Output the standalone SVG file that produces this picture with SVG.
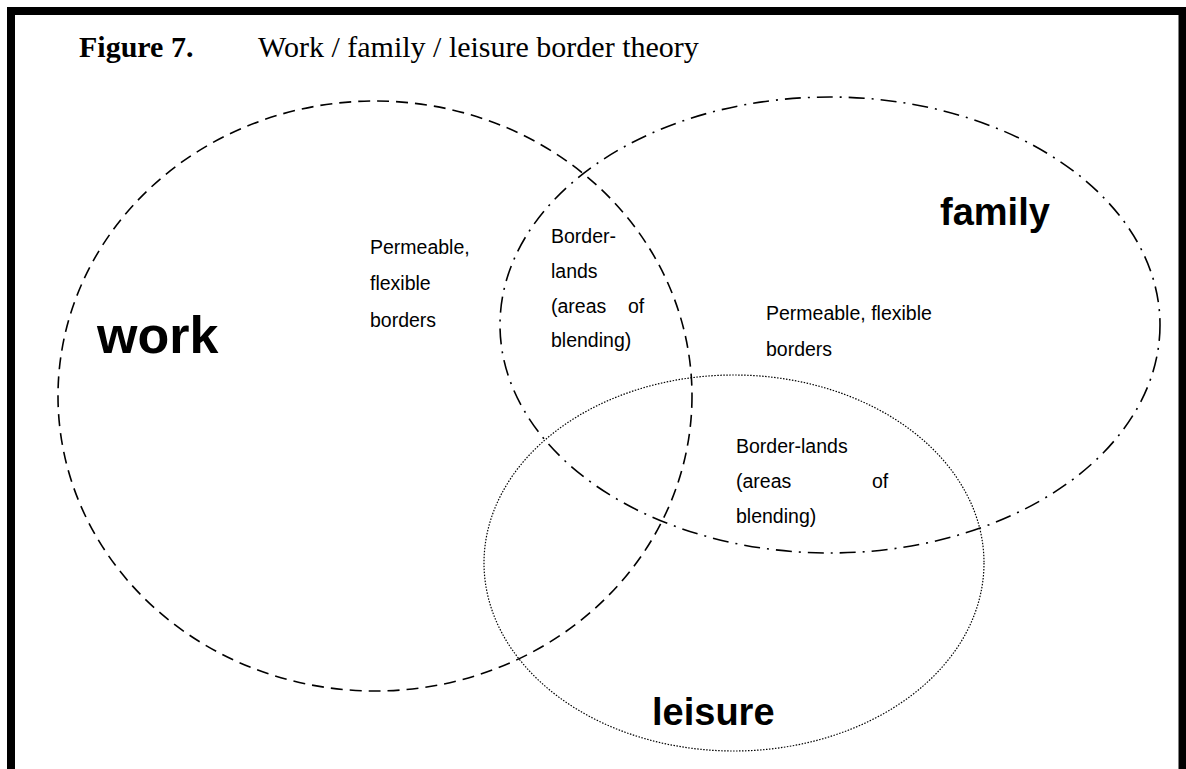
<svg xmlns="http://www.w3.org/2000/svg" width="1186" height="769" viewBox="0 0 1186 769">
<style>
.frame{fill:none;stroke:#000;stroke-width:8}
.ell{fill:none;stroke:#000}
.work{stroke-width:1.6;stroke-dasharray:12 7}
.family{stroke-width:1.6;stroke-dasharray:16 7 2 7}
.leisure{stroke-width:1.2;stroke-dasharray:1.5 1.5}
.title{font-family:"Liberation Serif",serif;font-size:30px;fill:#000}
.big{font-family:"Liberation Sans",Arial,sans-serif;font-weight:bold;fill:#000}
.small{font-family:"Liberation Sans",Arial,sans-serif;font-size:19.5px;fill:#000}
</style>
<rect class="frame" x="11" y="11" width="1171.5" height="800"/>
<text class="title" x="79" y="57"><tspan font-weight="bold">Figure 7.</tspan><tspan x="258">Work / family / leisure border theory</tspan></text>
<g id="connectors"></g>
<g id="work">
<ellipse class="ell work" cx="375" cy="396" rx="317" ry="295"/>
<text class="big" x="97" y="353" font-size="52">work</text>
</g>
<g id="family">
<ellipse class="ell family" cx="830" cy="325" rx="330" ry="228"/>
<text class="big" x="940" y="225" font-size="38">family</text>
</g>
<g id="leisure">
<ellipse class="ell leisure" cx="734" cy="563" rx="250" ry="188"/>
<text class="big" x="652" y="725" font-size="38">leisure</text>
</g>
<g id="work-family-border">
<text class="small" x="370" y="254">Permeable,</text>
<text class="small" x="370" y="290">flexible</text>
<text class="small" x="370" y="327">borders</text>
</g>
<g id="borderlands-1">
<text class="small" x="551" y="243">Border-</text>
<text class="small" x="551" y="278">lands</text>
<text class="small" x="551" y="313">(areas</text>
<text class="small" x="628" y="313">of</text>
<text class="small" x="551" y="347">blending)</text>
</g>
<g id="family-leisure-border">
<text class="small" x="766" y="320">Permeable, flexible</text>
<text class="small" x="766" y="356">borders</text>
</g>
<g id="borderlands-2">
<text class="small" x="736" y="453">Border-lands</text>
<text class="small" x="736" y="488">(areas</text>
<text class="small" x="872" y="488">of</text>
<text class="small" x="736" y="523">blending)</text>
</g>
</svg>
